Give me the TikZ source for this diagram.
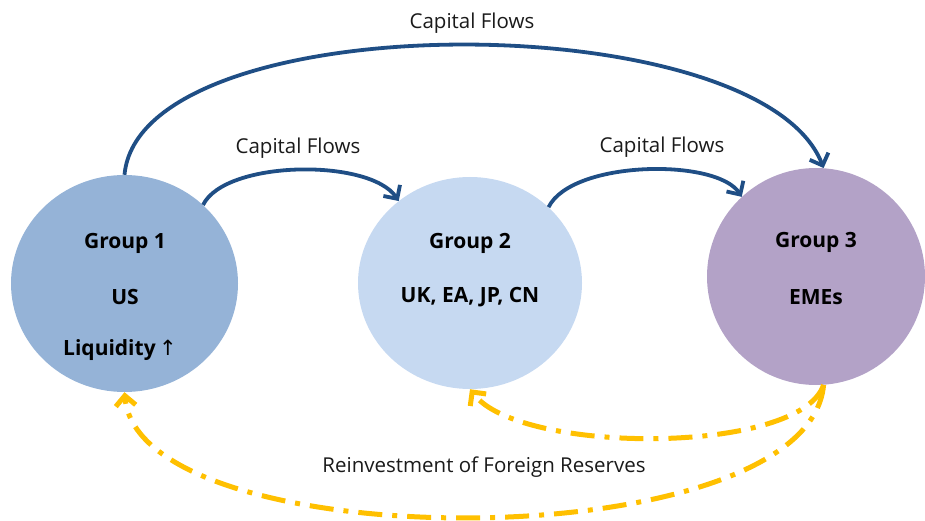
\documentclass[tikz,border=0pt]{standalone}
\usepackage{fontspec}
\setmainfont{Open Sans}
\newfontfamily\symfont{DejaVu Sans}
\usetikzlibrary{shapes.geometric, arrows.meta}
\definecolor{gone}{HTML}{95B3D7}
\definecolor{gtwo}{HTML}{C6D9F1}
\definecolor{gthree}{HTML}{B3A2C7}
\definecolor{flowblue}{HTML}{1F4E85}
\definecolor{resyellow}{HTML}{FFC000}
\definecolor{labelgray}{HTML}{1A1A1A}
\begin{document}
\begin{tikzpicture}[x=1pt,y=-1pt,
  grp/.style={ellipse, draw=none, inner sep=0pt},
  boldtext/.style={font=\fontsize{21}{25}\selectfont\bfseries, text=black, inner sep=0pt},
  lbl/.style={font=\fontsize{20.5}{24}\selectfont, text=labelgray, inner sep=0pt},
  flow/.style={draw=flowblue, line width=3.8pt, -{Straight Barb[length=10pt,width=20pt]}},
  reserve/.style={draw=resyellow, line width=5pt, dash pattern=on 24pt off 10pt on 5pt off 10pt, -{Straight Barb[length=10pt,width=20pt]}}
]
\useasboundingbox (0,0) rectangle (925,521);
\node[grp, fill=gone, minimum width=227pt, minimum height=217pt] (c1) at (124.5,283.5) {};
\node[grp, fill=gtwo, minimum width=224pt, minimum height=212pt] (c2) at (470,283) {};
\node[grp, fill=gthree, minimum width=218pt, minimum height=217pt] (c3) at (816,276.5) {};

\node[boldtext] (g1) at (125,243) {Group 1};
\node[boldtext] (us) at (125,297) {US};
\node[boldtext] (liq) at (120,350) {Liquidity\,{\mdseries\symfont↑}};
\node[boldtext] (g2) at (470,243) {Group 2};
\node[boldtext] (ukea) at (470,297) {UK, EA, JP, CN};
\node[boldtext] (g3) at (816,242) {Group 3};
\node[boldtext] (emes) at (816,297) {EMEs};

\node[lbl] (ltop) at (472,23) {Capital Flows};
\node[lbl] (l12) at (298,148) {Capital Flows};
\node[lbl] (l23) at (662,147) {Capital Flows};
\node[lbl] (lres) at (484,467) {Reinvestment of Foreign Reserves};

\draw[flow] (c1.90) .. controls (140,3) and (760,3) .. (c3.86);
\draw[flow] (c1.45) .. controls (225,160) and (370,158) .. (c2.131);
\draw[flow] (c2.44) .. controls (572,160) and (717,158) .. (c3.133);

\draw[reserve] (c3.274) .. controls (808,560) and (140,560) .. (c1.270);
\draw[reserve] (c3.274) .. controls (800,455) and (520,455) .. (c2.270);
\end{tikzpicture}
\end{document}
